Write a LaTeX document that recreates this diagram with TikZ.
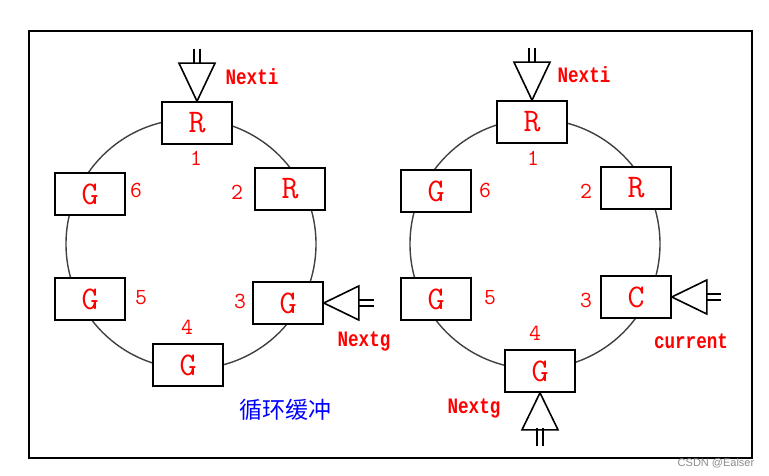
\documentclass[tikz,border=0pt]{standalone}
\usepackage{fontspec}
\newfontfamily\monof[FakeStretch=0.8]{Liberation Mono}
\newfontfamily\cjk{Noto Sans CJK SC}
\tikzset{
  cell/.style={draw, line width=1.6pt, fill=white, minimum width=70pt, minimum height=42pt, inner sep=0pt, text=red, font=\ttfamily\fontsize{33}{33}\selectfont},
  num/.style={text=red, font=\ttfamily\fontsize{23}{23}\selectfont},
  tag/.style={text=red, font=\monof\bfseries\fontsize{22}{22}\selectfont},
  ring/.style={draw=black!75, line width=1.4pt},
  hollow/.style={line width=1.6pt, line join=miter}
}
\begin{document}
\begin{tikzpicture}[x=1pt,y=-1pt]
	\useasboundingbox (0,0) rectangle (769,476);
	\draw[line width=1.6pt] (29,31) rectangle (752,458);
	%=========== figure left, from top round the ring ===========================
	\draw[ring] (191,244) circle (125);
	\node[cell] (L1) at (197,123) {R};
	\node[cell] (L2) at (290,189) {R};
	\node[cell] (L3) at (288,303) {G};
	\node[cell] (L4) at (188,365) {G};
	\node[cell] (L5) at (90,299) {G};
	\node[cell] (L6) at (90,194) {G};
	\node[num] (Ln1) at (196,158) {1};
	\node[num] (Ln2) at (237,192) {2};
	\node[num] (Ln3) at (240,301) {3};
	\node[num] (Ln4) at (187,327) {4};
	\node[num] (Ln5) at (141,298) {5};
	\node[num] (Ln6) at (136,190) {6};
	\node[tag] (Lnexti) at (252,77) {Nexti};
	\node[tag] (Lnextg) at (364,342) {Nextg};
	\node[text=blue, font=\cjk\fontsize{23}{23}\selectfont] (Lname) at (285,410) {循环缓冲};
	\coordinate (Lin) at (197,49);
	\draw[hollow] (L1.north) -- ++(-18,-38) -- ++(36,0) -- cycle;
	\draw[hollow] (Lin) ++(-3,0) -- ++(0,15) (Lin) ++(3,0) -- ++(0,15);
	\coordinate (Lgin) at (374,303);
	\draw[hollow] (L3.east) -- ++(35,-17) -- ++(0,34) -- cycle;
	\draw[hollow] (Lgin) ++(0,-3) -- ++(-16,0) (Lgin) ++(0,3) -- ++(-16,0);
	%=========== figure right, from top round the ring ===========================
	\draw[ring] (535,244) circle (125);
	\node[cell] (R1) at (532,122) {R};
	\node[cell] (R2) at (636,188) {R};
	\node[cell] (R3) at (636,297) {C};
	\node[cell] (R4) at (540,371) {G};
	\node[cell] (R5) at (436,299) {G};
	\node[cell] (R6) at (436,191) {G};
	\node[num] (Rn1) at (533,158) {1};
	\node[num] (Rn2) at (586,191) {2};
	\node[num] (Rn3) at (586,300) {3};
	\node[num] (Rn4) at (535,333) {4};
	\node[num] (Rn5) at (490,298) {5};
	\node[num] (Rn6) at (485,190) {6};
	\node[tag] (Rnexti) at (584,75) {Nexti};
	\node[tag] (Rcurrent) at (691,341) {current};
	\node[tag] (Rnextg) at (474,409) {Nextg};
	\coordinate (Rin) at (532,48);
	\draw[hollow] (R1.north) -- ++(-18,-38) -- ++(36,0) -- cycle;
	\draw[hollow] (Rin) ++(-3,0) -- ++(0,15) (Rin) ++(3,0) -- ++(0,15);
	\coordinate (Rcin) at (721,297);
	\draw[hollow] (R3.east) -- ++(35,-17) -- ++(0,34) -- cycle;
	\draw[hollow] (Rcin) ++(0,-3) -- ++(-15,0) (Rcin) ++(0,3) -- ++(-15,0);
	\coordinate (Rgin) at (540,446);
	\draw[hollow] (R4.south) -- ++(-18,37) -- ++(36,0) -- cycle;
	\draw[hollow] (Rgin) ++(-3,0) -- ++(0,-18) (Rgin) ++(3,0) -- ++(0,-18);
	\node[text=black!45, font=\fontspec{Liberation Sans}\fontsize{11}{11}\selectfont] (mark) at (716,463) {CSDN @Ealser};
\end{tikzpicture}
\end{document}
